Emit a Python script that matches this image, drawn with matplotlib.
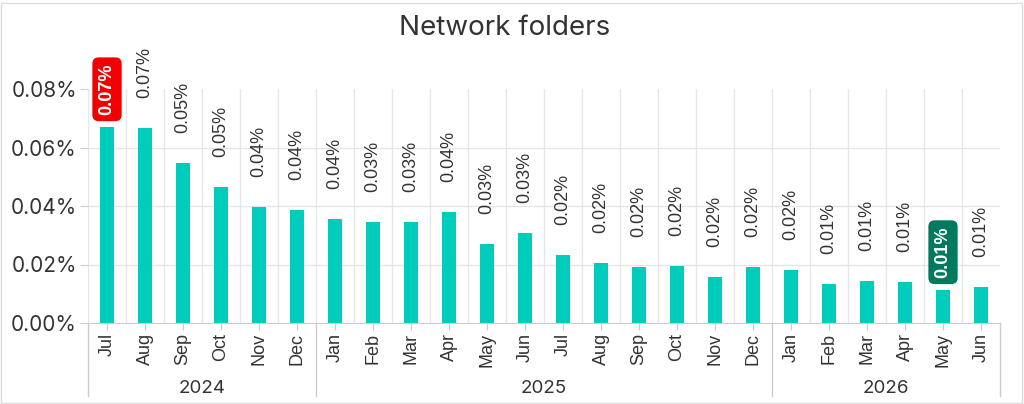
import matplotlib
matplotlib.use('Agg')
import matplotlib.pyplot as plt
from matplotlib.patches import Rectangle

# monthly share, percent
months = ['Jul', 'Aug', 'Sep', 'Oct', 'Nov', 'Dec',
          'Jan', 'Feb', 'Mar', 'Apr', 'May', 'Jun', 'Jul', 'Aug', 'Sep', 'Oct', 'Nov', 'Dec',
          'Jan', 'Feb', 'Mar', 'Apr', 'May', 'Jun']
values = [0.0670, 0.0667, 0.0547, 0.0465, 0.0397, 0.0386,
          0.0356, 0.0345, 0.0345, 0.0380, 0.0270, 0.0308, 0.0233, 0.0205, 0.0192, 0.0195, 0.0157, 0.0191,
          0.0181, 0.0133, 0.0144, 0.0140, 0.0113, 0.0123]
years = ['2024', '2025', '2026']
year_spans = [(0, 6), (6, 18), (18, 24)]
yticks = [0.0, 0.02, 0.04, 0.06, 0.08]

bar_color = '#00CCBB'
grid_color = '#e6e6e6'
axis_color = '#cccccc'
text_color = '#333333'
label_font = 'Liberation Sans'
head_font = 'Inter'

fig = plt.figure(figsize=(10.24, 4.04), dpi=100)
ax = fig.add_axes([88 / 1024, 1 - 323 / 404, 912 / 1024, 234 / 404])

x = list(range(len(values)))
ax.bar(x, values, width=0.36, color=bar_color, zorder=3)

ax.set_xlim(-0.5, len(values) - 0.5)
ax.set_ylim(0, 0.08)

# grid
for t in yticks[1:-1]:
    ax.axhline(t, color=grid_color, lw=1, zorder=1)
for b in range(len(values)):
    ax.axvline(b - 0.5, color=grid_color, lw=1, zorder=1)

for s in ['top', 'right', 'left']:
    ax.spines[s].set_visible(False)
ax.spines['bottom'].set_color(axis_color)
ax.spines['bottom'].set_zorder(4)

ax.set_yticks(yticks)
ax.set_yticklabels([f'{t:.2f}%' for t in yticks], fontsize=15, color=text_color, family=head_font)
ax.tick_params(axis='y', length=6, color=axis_color, pad=2)

ax.set_xticks(x)
ax.set_xticklabels(months, rotation=90, fontsize=13, color=text_color, family=label_font,
                   va='top', ha='center')
ax.tick_params(axis='x', length=5, color=axis_color, pad=2)

# year groups
xt = ax.get_xaxis_transform()
for (a, b), yr in zip(year_spans, years):
    ax.text((a + b - 1) / 2, -0.282, yr, transform=xt, ha='center', va='center',
            fontsize=13.5, color=text_color, family=head_font)
for edge in [-0.5, 5.5, 17.5, len(values) - 0.5]:
    ax.plot([edge, edge], [0, -0.31], transform=xt, color=axis_color, lw=1, clip_on=False)

# data labels
imax = values.index(max(values))
imin = values.index(min(values))
for i, v in enumerate(values):
    txt = f'{v:.2f}%'
    if i in (imax, imin):
        fc = '#F20000' if i == imax else '#007A5E'
        ax.annotate(txt, xy=(i, v), xytext=(0, 12 * 0.72), textcoords='offset points',
                    rotation=90, ha='center', va='bottom', fontsize=13, fontweight='bold',
                    color='white', family=label_font, zorder=5, annotation_clip=False,
                    bbox=dict(boxstyle='round,pad=0.34,rounding_size=0.35', fc=fc, ec='none'))
    else:
        ax.annotate(txt, xy=(i, v), xytext=(0, 30 * 0.72), textcoords='offset points',
                    rotation=90, ha='center', va='bottom', fontsize=13,
                    color=text_color, family=label_font, zorder=5, annotation_clip=False)

fig.text(0.493, 0.93, 'Network folders', ha='center', va='center', fontsize=20,
         color=text_color, family=head_font)

fig.patches.append(Rectangle((0.0005, 0.0015), 0.998, 0.992, transform=fig.transFigure,
                             fill=False, ec='#dddddd', lw=1))

fig.savefig('out.png', dpi=100)
